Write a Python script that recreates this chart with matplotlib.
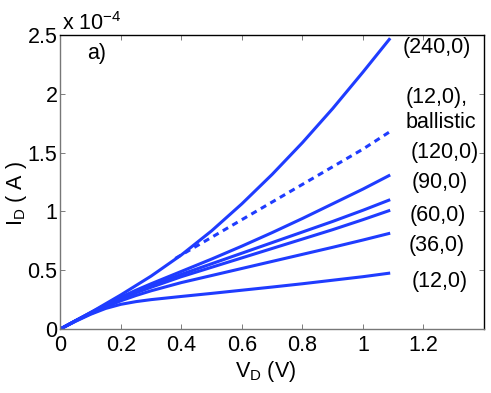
import matplotlib
matplotlib.use('Agg')
import matplotlib.pyplot as plt

plt.rcParams['font.family'] = ['Liberation Sans', 'DejaVu Sans']
plt.rcParams['mathtext.fontset'] = 'custom'
plt.rcParams['mathtext.rm'] = 'Liberation Sans'
plt.rcParams['mathtext.it'] = 'Liberation Sans'

# drain voltage (V)
vd = [0, 0.05, 0.1, 0.15, 0.2, 0.25, 0.3, 0.4, 0.5, 0.6, 0.7, 0.8, 0.9, 1.0, 1.09]
# drain current, units of 1e-4 A
id_240 = [0, 0.07, 0.14, 0.215, 0.29, 0.37, 0.45, 0.63, 0.835, 1.065, 1.315, 1.585, 1.875, 2.185, 2.473]
id_120 = [0, 0.07, 0.14, 0.205, 0.27, 0.33, 0.385, 0.49, 0.595, 0.705, 0.82, 0.94, 1.065, 1.19, 1.31]
id_90 = [0, 0.07, 0.135, 0.20, 0.26, 0.318, 0.37, 0.465, 0.555, 0.645, 0.735, 0.825, 0.915, 1.01, 1.10]
id_60 = [0, 0.07, 0.135, 0.195, 0.255, 0.308, 0.355, 0.445, 0.525, 0.605, 0.685, 0.765, 0.845, 0.93, 1.01]
id_36 = [0, 0.068, 0.13, 0.187, 0.24, 0.285, 0.325, 0.395, 0.455, 0.515, 0.575, 0.635, 0.695, 0.757, 0.815]
id_12 = [0, 0.065, 0.125, 0.175, 0.21, 0.233, 0.25, 0.277, 0.303, 0.33, 0.357, 0.385, 0.415, 0.445, 0.476]

# ballistic (12,0) limit, dashed
vd_ball = [0.38, 0.5, 0.6, 0.7, 0.8, 0.9, 1.0, 1.09]
id_ball = [0.60, 0.78, 0.93, 1.08, 1.23, 1.38, 1.53, 1.68]

# curve labels: (text, x, y)
labels = [
    ('(240,0)', 1.132, 2.39),
    ('(12,0),', 1.142, 1.973),
    ('ballistic', 1.14, 1.76),
    ('(120,0)', 1.157, 1.497),
    ('(90,0)', 1.160, 1.242),
    ('(60,0)', 1.155, 0.969),
    ('(36,0)', 1.152, 0.714),
    ('(12,0)', 1.160, 0.40),
]

blue = '#1f3cff'
fs = 15.5

fig = plt.figure(figsize=(4.91, 3.93), dpi=100)
ax = fig.add_axes([0.1228, 0.1628, 0.863, 0.748])

for cur in [id_240, id_120, id_90, id_60, id_36, id_12]:
    ax.plot(vd, cur, color=blue, lw=2.2, solid_capstyle='butt')
ax.plot(vd_ball, id_ball, color=blue, lw=2.2, ls=(0, (2.0, 1.6)))

for txt, x, y in labels:
    ax.text(x, y, txt, fontsize=fs, ha='left', va='center')

ax.set_xlim(0, 1.4)
ax.set_ylim(0, 2.5)
ax.set_xticks([0, 0.2, 0.4, 0.6, 0.8, 1.0, 1.2])
ax.set_xticklabels(['0', '0.2', '0.4', '0.6', '0.8', '1', '1.2'])
ax.set_yticks([0, 0.5, 1.0, 1.5, 2.0, 2.5])
ax.set_yticklabels(['0', '0.5', '1', '1.5', '2', '2.5'])
ax.tick_params(direction='in', top=True, right=True, length=3.5, width=0.6,
               color='#666666', labelsize=fs)
ax.tick_params(axis='x', pad=4)
ax.tick_params(axis='y', pad=2)

for side in ['left', 'bottom']:
    ax.spines[side].set_color('#777777')
for side in ['top', 'right']:
    ax.spines[side].set_color('black')
for s in ax.spines.values():
    s.set_linewidth(1.0)

fig.text(62 / 491, 1 - 30 / 393, r'x 10$^{-4}$', fontsize=fs, ha='left', va='baseline')
fig.text(87 / 491, 1 - 59 / 393, 'a)', fontsize=fs, ha='left', va='baseline')
fig.text(235 / 491, 1 - 377 / 393, r'V$_\mathrm{D}$ (V)', fontsize=fs, ha='left', va='baseline')
fig.text(22 / 491, 1 - 226 / 393, r'I$_\mathrm{D}$ ( A )', fontsize=fs, rotation=90,
         rotation_mode='anchor', ha='left', va='baseline')

fig.savefig('out.png', dpi=100)
